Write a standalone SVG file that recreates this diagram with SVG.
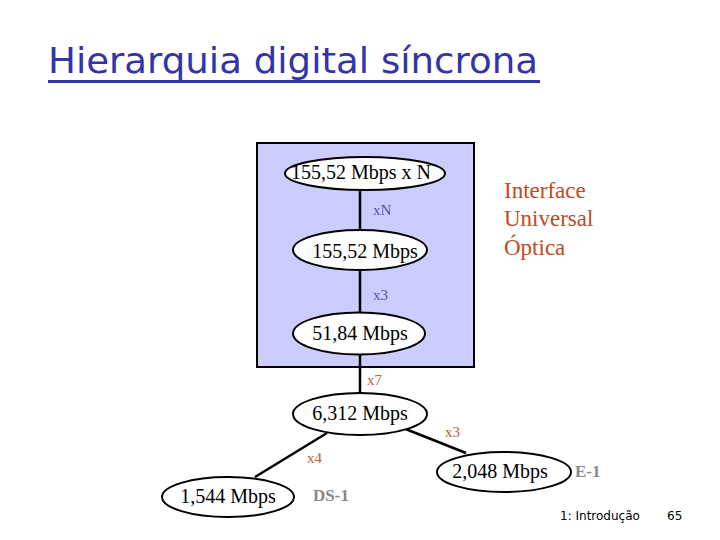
<svg xmlns="http://www.w3.org/2000/svg" width="720" height="540" viewBox="0 0 720 540">
<style>
.node ellipse{fill:#fff;stroke:#000;stroke-width:2}
.node text{font-family:"Liberation Serif","Times New Roman",serif;font-size:20px;fill:#000;text-anchor:middle}
.conn line{stroke:#000;stroke-width:2.5}
.lblIn{font-family:"Liberation Serif",serif;font-size:15px;fill:#5555aa}
.lblOut{font-family:"Liberation Serif",serif;font-size:15px;fill:#c0603f}
.std{font-family:"Liberation Serif",serif;font-size:17px;font-weight:bold;fill:#888}
.iface{font-family:"Liberation Serif",serif;font-size:23px;fill:#c04a26}
.foot{font-family:"DejaVu Sans",sans-serif;font-size:12px;fill:#000}
</style>
<rect width="720" height="540" fill="#fff"/>
<g id="title">
<text x="48" y="73" font-family="'DejaVu Sans',sans-serif" font-size="36" fill="#3333aa" textLength="490" lengthAdjust="spacingAndGlyphs">Hierarquia digital síncrona</text>
<rect x="48" y="80" width="492" height="3" fill="#3333aa"/>
</g>
<g id="sonet-box">
<rect x="257" y="143" width="217" height="224" fill="#ccccff" stroke="#000" stroke-width="2"/>
</g>
<g id="connectors" class="conn">
<line x1="360" y1="190" x2="360" y2="230"/>
<line x1="360" y1="270" x2="360" y2="312"/>
<line x1="360" y1="355" x2="360" y2="393"/>
<line x1="327" y1="433" x2="255" y2="477"/>
<line x1="403" y1="428" x2="466" y2="453"/>
</g>
<g id="labels">
<text class="lblIn" x="373" y="215">xN</text>
<text class="lblIn" x="373" y="300">x3</text>
<text class="lblOut" x="367" y="385">x7</text>
<text class="lblOut" x="307" y="463">x4</text>
<text class="lblOut" x="445" y="437">x3</text>
</g>
<g id="n-155N" class="node">
<ellipse cx="365" cy="173.5" rx="80" ry="16.5"/>
<text x="361" y="179">155,52 Mbps x N</text>
</g>
<g id="n-155" class="node">
<ellipse cx="360" cy="250" rx="67" ry="20"/>
<text x="365" y="258">155,52 Mbps</text>
</g>
<g id="n-51" class="node">
<ellipse cx="359" cy="333.5" rx="66" ry="21"/>
<text x="360" y="340">51,84 Mbps</text>
</g>
<g id="n-6312" class="node">
<ellipse cx="360" cy="414" rx="67" ry="21"/>
<text x="360" y="420">6,312 Mbps</text>
</g>
<g id="n-1544" class="node">
<ellipse cx="228" cy="497" rx="66" ry="20"/>
<text x="228" y="503">1,544 Mbps</text>
</g>
<g id="n-2048" class="node">
<ellipse cx="504" cy="472" rx="67" ry="20"/>
<text x="500" y="478">2,048 Mbps</text>
</g>
<g id="standards">
<text class="std" x="313" y="501">DS-1</text>
<text class="std" x="575" y="477">E-1</text>
</g>
<g id="interface">
<text class="iface" x="504" y="198">Interface</text>
<text class="iface" x="504" y="226">Universal</text>
<text class="iface" x="504" y="255">Óptica</text>
</g>
<g id="footer">
<text class="foot" x="560" y="520">1: Introdução</text>
<text class="foot" x="667" y="520">65</text>
</g>
</svg>
